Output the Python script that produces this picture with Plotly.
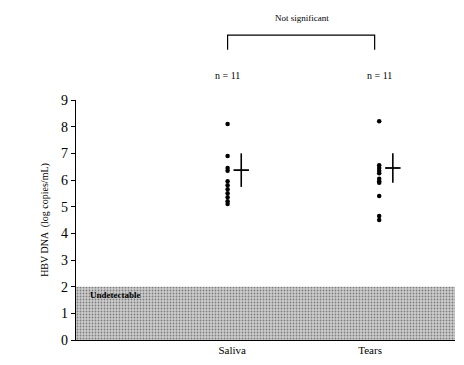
import plotly.graph_objects as go

# ---- data ----
groups = ["Saliva", "Tears"]
group_pos = [1, 2]
saliva_values = [8.1, 6.9, 6.45, 6.35, 5.95, 5.8, 5.65, 5.5, 5.35, 5.2, 5.1]
tears_values = [8.2, 6.55, 6.45, 6.35, 6.25, 6.05, 5.95, 5.9, 5.4, 4.65, 4.5]
group_means = [6.37, 6.45]
group_sd = [0.63, 0.55]
n_labels = ["n = 11", "n = 11"]
detection_limit = 2
y_ticks = list(range(0, 10))
significance_label = "Not significant"
undetect_label = "Undetectable"

X_RANGE = [0, 2.5]
Y_RANGE = [0, 9]
FONT = "Liberation Serif, Times New Roman, serif"
CROSS_OFFSET = 0.09

fig = go.Figure()

# undetectable stippled band
fig.add_trace(go.Scatter(
    x=[X_RANGE[0], X_RANGE[1], X_RANGE[1], X_RANGE[0], X_RANGE[0]],
    y=[0, 0, detection_limit, detection_limit, 0],
    fill="toself", mode="lines", line=dict(width=0),
    fillcolor="#c4c4c4",
    fillpattern=dict(shape=".", fgcolor="#2e2e2e", bgcolor="#cdcdcd", size=3, solidity=0.3),
    hoverinfo="skip", showlegend=False,
))

for pos, vals in zip(group_pos, [saliva_values, tears_values]):
    fig.add_trace(go.Scatter(
        x=[pos] * len(vals), y=vals, mode="markers",
        marker=dict(color="black", size=4.5, symbol="circle"),
        showlegend=False,
    ))

# mean +/- SD crosses
fig.add_trace(go.Scatter(
    x=[p + CROSS_OFFSET for p in group_pos], y=group_means, mode="markers",
    marker=dict(symbol="line-ew", size=11, line=dict(width=1.8, color="black")),
    error_y=dict(type="data", array=group_sd, visible=True, color="black", thickness=1.6, width=0),
    showlegend=False,
))

# undetectable label
fig.add_annotation(x=0.08, y=1.7, xref="x", yref="y", text="<b>" + undetect_label + "</b>",
                   showarrow=False, xanchor="left", yanchor="middle",
                   font=dict(family=FONT, size=9, color="black"))

# n labels
for pos, lab in zip(group_pos, n_labels):
    fig.add_annotation(x=pos, y=1.10, xref="x", yref="paper", text=lab, showarrow=False,
                       yanchor="middle", font=dict(family=FONT, size=10, color="black"))

# significance bracket
fig.add_shape(type="path", xref="x", yref="paper",
              path=f"M {group_pos[0]},1.209 L {group_pos[0]},1.270 L {group_pos[1] - 0.03},1.270 L {group_pos[1] - 0.03},1.209",
              line=dict(color="black", width=1.2))
fig.add_annotation(x=(group_pos[0] + group_pos[1]) / 2 - 0.01, y=1.343, xref="x", yref="paper",
                   text=significance_label, showarrow=False, yanchor="middle",
                   font=dict(family=FONT, size=9, color="black"))

fig.update_layout(
    width=464, height=365,
    margin=dict(l=76, r=9, t=99.5, b=19.5),
    paper_bgcolor="white", plot_bgcolor="white",
    font=dict(family=FONT, color="black"),
    showlegend=False,
)
fig.update_xaxes(
    range=X_RANGE, showgrid=False, zeroline=False,
    showline=True, linecolor="black", linewidth=1.2,
    tickvals=[1.03, 1.94], ticktext=groups, ticks="", ticklen=0,
    tickfont=dict(family=FONT, size=11, color="black"),
)
fig.update_yaxes(
    range=Y_RANGE, showgrid=False, zeroline=False,
    showline=True, linecolor="black", linewidth=1.2,
    tickvals=y_ticks, ticks="outside", ticklen=4, tickwidth=1.2, tickcolor="black",
    tickfont=dict(family=FONT, size=14, color="black"),
    title=dict(text="HBV DNA  (log copies/mL)", font=dict(family=FONT, size=10), standoff=10),
)

fig.write_html("out.html")
